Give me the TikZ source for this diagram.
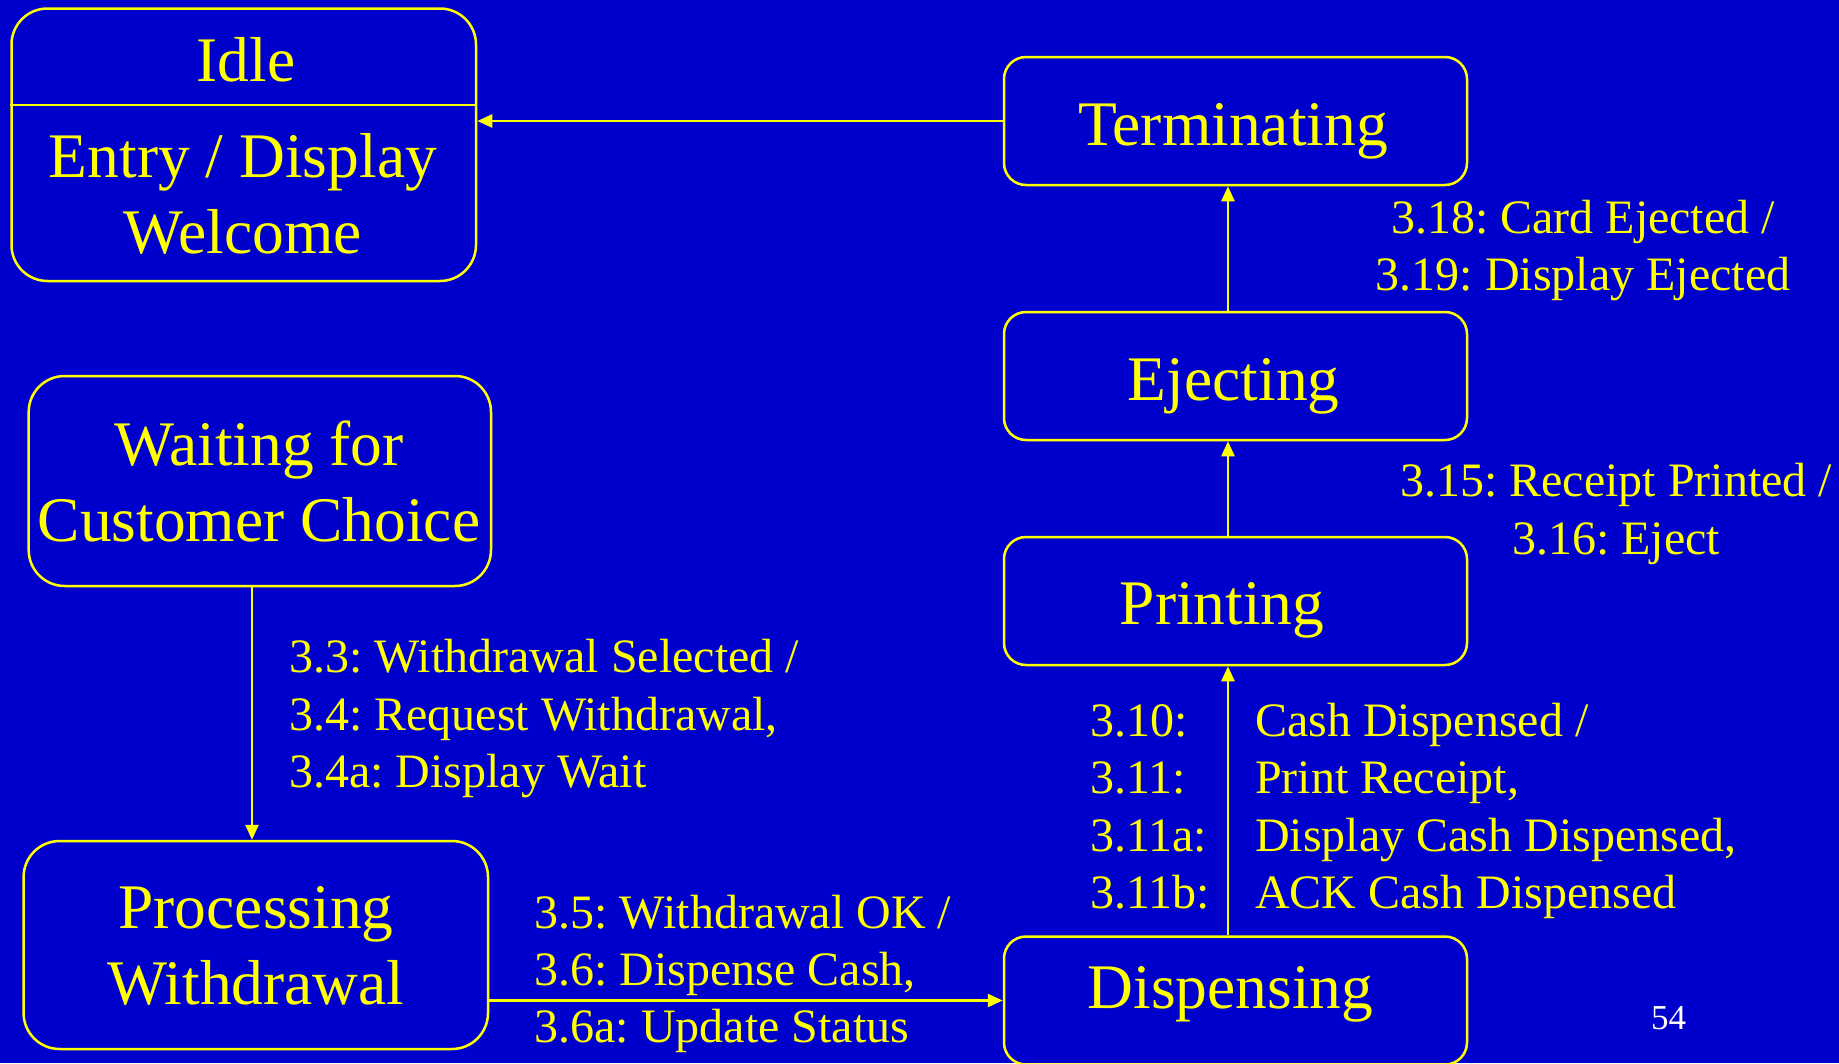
\documentclass[tikz,border=0pt]{standalone}
\usepackage{fontspec}
\setmainfont{Liberation Serif}
\usetikzlibrary{arrows.meta,calc}
\definecolor{bg}{RGB}{0,0,204}
\definecolor{yl}{RGB}{255,255,0}
\newcommand{\mlines}[2]{\begin{tabular}[t]{@{}#1@{}}#2\end{tabular}}
\frenchspacing
\begin{document}
\begin{tikzpicture}[x=1pt,y=-1pt,
  statebox/.style={draw=yl, line width=2.5pt, rectangle, inner sep=0pt},
  bigstate/.style={statebox, rounded corners=36pt},
  smallstate/.style={statebox, rounded corners=22pt, minimum width=463pt, minimum height=128pt},
  stxt/.style={text=yl, inner sep=0pt, anchor=base, font=\fontsize{63.5}{76.5}\selectfont},
  ltxt/.style={text=yl, inner sep=0pt, font=\fontsize{48}{57.3}\selectfont},
  conn/.style={draw=yl, line width=2.5pt, -{Triangle[length=15pt,width=13pt]}}
]
\fill[bg] (0,0) rectangle (1839,1063);
\useasboundingbox (0,0) rectangle (1839,1063);
\clip (0,0) rectangle (1839,1063);

% states
\node[bigstate, minimum width=464.5pt, minimum height=272.5pt] (idle) at (243.75,144.75) {};
\coordinate (divy) at (0,105);
\draw[yl, line width=2.5pt] (idle.west |- divy) -- (idle.east |- divy);
\node[bigstate, minimum width=462.3pt, minimum height=210pt] (waiting) at (259.85,481) {};
\node[bigstate, minimum width=464.4pt, minimum height=208pt] (processing) at (255.8,945) {};
\node[smallstate] (terminating) at (1235.5,121) {};
\node[smallstate] (ejecting) at (1235.5,376) {};
\node[smallstate] (printing) at (1235.5,601) {};
\node[smallstate] (dispensing) at (1235.5,1000.5) {};

% state texts
\node[stxt] (idlet) at (246,81) {Idle};
\node[stxt] (idleb) at (243,177) {\mlines{c}{Entry / Display\\Welcome}};
\node[stxt] (waitingt) at (259,465) {\mlines{c}{Waiting for\\Customer Choice}};
\node[stxt] (processingt) at (256,928) {\mlines{c}{Processing\\Withdrawal}};
\node[stxt] (terminatingt) at (1233,145) {Terminating};
\node[stxt] (ejectingt) at (1233.7,400) {Ejecting};
\node[stxt] (printingt) at (1222,624) {Printing};
\node[stxt] (dispensingt) at (1230.5,1008) {Dispensing};

% connectors
\coordinate (vx) at (1228,0);
\coordinate (wx) at (252,0);
\draw[conn] (terminating.west) -- (terminating.west -| idle.east);
\draw[conn] (ejecting.north -| vx) -- (terminating.south -| vx);
\draw[conn] (printing.north -| vx) -- (ejecting.south -| vx);
\draw[conn] (dispensing.north -| vx) -- (printing.south -| vx);
\draw[conn] (waiting.south -| wx) -- (processing.north -| wx);
\draw[conn] (processing.east |- dispensing.west) -- (dispensing.west);

% transition labels
\node[ltxt, anchor=base west] (l33) at (289,672.7) {\mlines{l}{3.3: Withdrawal Selected /\\3.4: Request Withdrawal,\\3.4a: Display Wait}};
\node[ltxt, anchor=base west] (l35) at (534.4,928) {\mlines{l}{3.5: Withdrawal OK /\\3.6: Dispense Cash,\\3.6a: Update Status}};
\node[ltxt, anchor=base west] (l310n) at (1090,736.4) {\mlines{l}{3.10:\\3.11:\\3.11a:\\3.11b:}};
\node[ltxt, anchor=base west] (l310t) at (1255,736.4) {\mlines{l}{Cash Dispensed /\\Print Receipt,\\Display Cash Dispensed,\\ACK Cash Dispensed}};
\node[ltxt, anchor=base] (l318) at (1583,233) {\mlines{c}{3.18: Card Ejected /\\3.19: Display Ejected}};
\node[ltxt, anchor=base] (l315) at (1616,496.7) {\mlines{c}{3.15: Receipt Printed /\\3.16: Eject}};

% page number
\node[text=white, inner sep=0pt, anchor=base west, font=\fontsize{35}{42}\selectfont] (pagenum) at (1651,1029) {54};
\end{tikzpicture}
\end{document}
